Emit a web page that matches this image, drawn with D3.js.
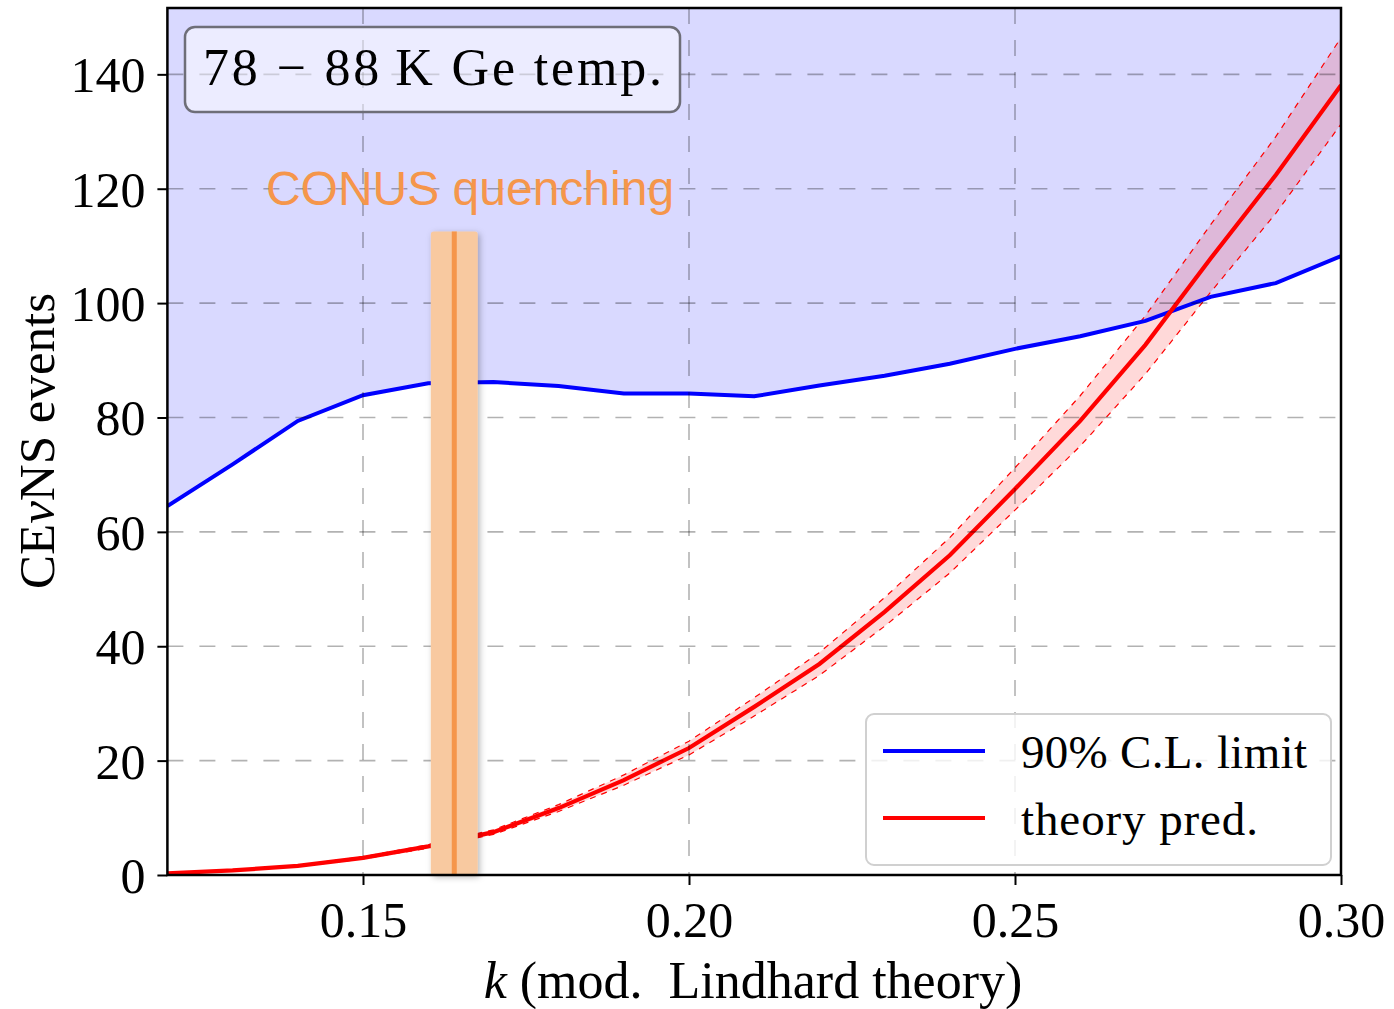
<!DOCTYPE html>
<html>
<head>
<meta charset="utf-8">
<script src="https://cdn.jsdelivr.net/npm/d3@7"></script>
<style>
  html, body { margin: 0; padding: 0; background: #fff; }
  svg { display: block; }
  .serif { font-family: "Liberation Serif", "DejaVu Serif", serif; }
</style>
</head>
<body>
<svg id="chart" width="1394" height="1009"></svg>
<script>
// ---------------- data ----------------
const kValues = [0.12,0.13,0.14,0.15,0.16,0.17,0.18,0.19,0.20,0.21,0.22,0.23,0.24,0.25,0.26,0.27,0.28,0.29,0.30];
const limit90 = [64.5,71.8,79.4,83.9,86.0,86.2,85.5,84.2,84.2,83.7,85.6,87.3,89.4,92.0,94.2,96.9,101.1,103.5,108.2];
const theory  = [0.3,0.8,1.6,3.0,5.0,7.5,11.7,16.6,22.2,29.4,36.9,46.0,55.9,67.5,79.4,92.7,107.8,122.4,138.1];
const theoryUpper = [0.32,0.85,1.7,3.2,5.3,7.9,12.3,17.5,23.4,31.0,38.9,48.5,59.0,71.2,83.8,97.8,113.7,129.1,146.4];
const theoryLower = [0.28,0.75,1.5,2.8,4.7,7.1,11.1,15.7,21.0,27.8,34.9,43.5,52.8,63.8,75.0,87.6,101.9,115.7,131.3];
const quenchK = 0.164, quenchErr = 0.0036, quenchTop = 112.5;
const xTicks = [0.15,0.20,0.25,0.30];
const yTicks = [0,20,40,60,80,100,120,140];
const legendLabels = ["90% C.L. limit","theory pred."];
const xDomain = [0.12,0.30], yDomain = [0,151.6];

// ---------------- layout ----------------
const L = 167.4, R = 1341, T = 8, B = 875;
const svg = d3.select("#chart");
const x = d3.scaleLinear().domain(xDomain).range([L,R]);
const y = d3.scaleLinear().domain(yDomain).range([B,T]);
const pts = kValues.map((k,i)=>({k, lim:limit90[i], th:theory[i], up:theoryUpper[i], lo:theoryLower[i]}));

const defs = svg.append("defs");
defs.append("clipPath").attr("id","clip").append("rect")
  .attr("x",L).attr("y",T).attr("width",R-L).attr("height",B-T);
const f = defs.append("filter").attr("id","shadow").attr("x","-50%").attr("y","-10%").attr("width","200%").attr("height","120%");
f.append("feDropShadow").attr("dx",2).attr("dy",2).attr("stdDeviation",3)
  .attr("flood-color","#000").attr("flood-opacity",0.28);

const plot = svg.append("g").attr("clip-path","url(#clip)");

// excluded region above limit
plot.append("path").datum(pts)
  .attr("d", d3.area().x(d=>x(d.k)).y0(y(yDomain[1])).y1(d=>y(d.lim)))
  .attr("fill","rgba(0,0,255,0.15)");

// grid
const gridG = svg.append("g").attr("clip-path","url(#clip)");
gridG.selectAll(".gx").data(xTicks).join("line")
  .attr("x1",d=>x(d)).attr("x2",d=>x(d)).attr("y1",T).attr("y2",B)
  .attr("stroke","rgba(0,0,0,0.3)").attr("stroke-width",1.6).attr("stroke-dasharray","16,16");
gridG.selectAll(".gy").data(yTicks).join("line")
  .attr("x1",L).attr("x2",R).attr("y1",d=>y(d)).attr("y2",d=>y(d))
  .attr("stroke","rgba(0,0,0,0.3)").attr("stroke-width",1.6).attr("stroke-dasharray","16,16");

// theory band
plot.append("path").datum(pts)
  .attr("d", d3.area().x(d=>x(d.k)).y0(d=>y(d.lo)).y1(d=>y(d.up)))
  .attr("fill","rgba(255,0,0,0.15)");
["up","lo"].forEach(key=>{
  plot.append("path").datum(pts)
    .attr("d", d3.line().x(d=>x(d.k)).y(d=>y(d[key])))
    .attr("fill","none").attr("stroke","#ff0000").attr("stroke-width",1.2).attr("stroke-dasharray","6,6");
});

// lines
plot.append("path").datum(pts)
  .attr("d", d3.line().x(d=>x(d.k)).y(d=>y(d.lim)))
  .attr("fill","none").attr("stroke","#0000ff").attr("stroke-width",4);
plot.append("path").datum(pts)
  .attr("d", d3.line().x(d=>x(d.k)).y(d=>y(d.th)))
  .attr("fill","none").attr("stroke","#ff0000").attr("stroke-width",4.2);

// CONUS quenching band
const qg = svg.append("g");
qg.append("rect")
  .attr("x", x(quenchK-quenchErr)).attr("width", x(quenchK+quenchErr)-x(quenchK-quenchErr))
  .attr("y", y(quenchTop)).attr("height", y(0)-y(quenchTop))
  .attr("rx",3).attr("fill","#f8c9a0").attr("filter","url(#shadow)");
qg.append("line")
  .attr("x1", x(quenchK)).attr("x2", x(quenchK)).attr("y1", y(quenchTop)).attr("y2", y(0))
  .attr("stroke","#f5964b").attr("stroke-width",5);
svg.append("text").text("CONUS quenching")
  .attr("x", 470).attr("y", 205).attr("text-anchor","middle")
  .attr("font-family","'Liberation Sans', Arial, sans-serif").attr("font-size",48)
  .attr("fill","#f5964b");

// spines
svg.append("rect").attr("x",L).attr("y",T).attr("width",R-L).attr("height",B-T)
  .attr("fill","none").attr("stroke","#000").attr("stroke-width",2.5);

// axes
const xAxis = svg.append("g").attr("transform",`translate(0,${B})`)
  .call(d3.axisBottom(x).tickValues(xTicks).tickFormat(d3.format(".2f")).tickSize(10).tickPadding(14));
const yAxis = svg.append("g").attr("transform",`translate(${L},0)`)
  .call(d3.axisLeft(y).tickValues(yTicks).tickFormat(d3.format("d")).tickSize(10).tickPadding(12));
[xAxis,yAxis].forEach(a=>{
  a.select(".domain").remove();
  a.selectAll(".tick line").attr("stroke","#000").attr("stroke-width",2);
  a.selectAll(".tick text").attr("class","serif").attr("font-size",50).attr("fill","#000")
    .attr("font-family","'Liberation Serif', serif");
});
yAxis.selectAll(".tick text").attr("dy","0.35em");
xAxis.selectAll(".tick text").attr("dy","0.75em");

// axis labels
const xl = svg.append("text").attr("class","serif").attr("x",753).attr("y",998)
  .attr("text-anchor","middle").attr("font-size",52);
xl.append("tspan").attr("font-style","italic").text("k");
xl.append("tspan").text(" (mod.  Lindhard theory)").attr("xml:space","preserve");

const yl = svg.append("text").attr("class","serif")
  .attr("transform","translate(54,441) rotate(-90)")
  .attr("text-anchor","middle").attr("font-size",51);
yl.append("tspan").text("CE");
yl.append("tspan").attr("font-style","italic").text("ν");
yl.append("tspan").text("NS events");

// temperature box
svg.append("rect").attr("x",185).attr("y",27).attr("width",495).attr("height",85).attr("rx",10)
  .attr("fill","rgba(255,255,255,0.5)").attr("stroke","#6e6e78").attr("stroke-width",2.5);
svg.append("text").attr("class","serif").attr("x",203).attr("y",85)
  .attr("font-size",52).attr("textLength",459).attr("lengthAdjust","spacing")
  .text("78 − 88\u2009K Ge temp.");

// legend
svg.append("rect").attr("x",866).attr("y",714).attr("width",465).attr("height",151).attr("rx",8)
  .attr("fill","rgba(255,255,255,0.8)").attr("stroke","#d0d0d0").attr("stroke-width",2);
const legColors = ["#0000ff","#ff0000"];
const legWidths = [286, 237];
legendLabels.forEach((lab,i)=>{
  const yy = 751 + i*67;
  svg.append("line").attr("x1",883).attr("x2",985).attr("y1",yy).attr("y2",yy)
    .attr("stroke",legColors[i]).attr("stroke-width",4);
  svg.append("text").attr("class","serif").attr("x",1021).attr("y",yy+17)
    .attr("font-size",47).attr("textLength",legWidths[i]).attr("lengthAdjust","spacing").text(lab);
});
</script>
</body>
</html>
